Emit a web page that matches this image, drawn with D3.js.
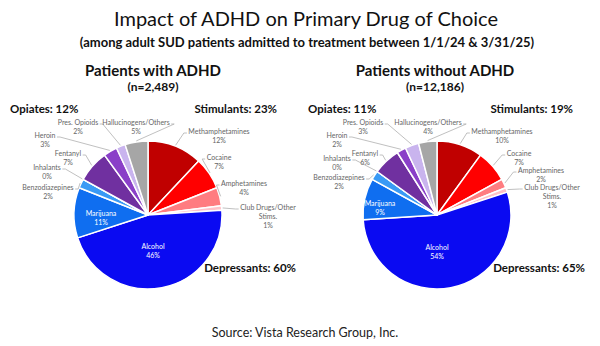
<!DOCTYPE html>
<html>
<head>
<meta charset="utf-8">
<script src="https://cdn.jsdelivr.net/npm/d3@7"></script>
<style>
	body { margin: 0; background: #fff; }
	svg { display: block; font-family: Lato, 'Open Sans', sans-serif; }
</style>
</head>
<body>
<svg id="chart"></svg>
<script>
// data
const drugs = ['Methamphetamines', 'Cocaine', 'Amphetamines', 'Club Drugs/Other\nStims.', 'Alcohol', 'Marijuana',
	'Benzodiazepines', 'Inhalants', 'Fentanyl', 'Heroin', 'Pres. Opioids', 'Hallucinogens/Others']
const withAdhd = [12, 7, 4, 1, 46, 11, 2, 0, 7, 3, 2, 5]
const withoutAdhd = [10, 7, 2, 1, 54, 9, 2, 0, 6, 2, 3, 4]
const pieTitles = ['Patients with ADHD', 'Patients without ADHD']
const pieCounts = ['(n=2,489)', '(n=12,186)']
const groupNames = ['Opiates', 'Stimulants', 'Depressants']
const groupWith = [12, 23, 60]
const groupWithout = [11, 19, 65]

const colors = ['#c00000', '#ff0000', '#ff7c80', '#ffc2c8', '#0a0af2', '#0f6ef0',
	'#3a9af5', '#9dc3e6', '#7030a0', '#8a3fc8', '#c9b4ee', '#a6a6a6']

// layout
const width = 600, height = 346
const radius = 74
const centers = [[148, 215], [437, 215]]
// label centre (first line) for each slice, per pie
const labelPos = [
	[[219, 131], [219, 157], [244, 183], [268, 207], [153, 246], [101, 213], [48, 187], [47, 167], [68, 153], [45, 135], [78, 122], [136, 122]],
	[[502, 131], [519, 153], [541, 170], [552, 187], [437, 247], [380, 203], [339, 177], [337, 158], [365, 153], [337, 135], [363, 122], [428, 122]]
]
const insideLabels = [4, 5]
const groupPos = [
	[[10, 109, 'start'], [277, 109, 'end'], [296, 268, 'end']],
	[[308, 109, 'start'], [573, 109, 'end'], [585, 268, 'end']]
]

const svg = d3.select('#chart')
	.attr('width', width)
	.attr('height', height)

svg.append('text')
	.attr('x', 306).attr('y', 26)
	.attr('text-anchor', 'middle')
	.attr('font-size', '20px')
	.attr('fill', '#111')
	.text('Impact of ADHD on Primary Drug of Choice')

svg.append('text')
	.attr('x', 307).attr('y', 47)
	.attr('text-anchor', 'middle')
	.attr('font-size', '13px')
	.attr('font-weight', 'bold')
	.attr('fill', '#111')
	.text('(among adult SUD patients admitted to treatment between 1/1/24 & 3/31/25)')

svg.append('text')
	.attr('x', 305).attr('y', 337)
	.attr('text-anchor', 'middle')
	.attr('font-size', '12.5px')
	.attr('fill', '#222')
	.text('Source:  Vista Research Group, Inc.')

const pie = d3.pie().sort(null).value(d => d)
const arc = d3.arc().innerRadius(0).outerRadius(radius)
const edgeArc = d3.arc().innerRadius(radius + 1).outerRadius(radius + 1)

function drawPie(i, values, groups) {
	const [cx, cy] = centers[i]
	const g = svg.append('g')
		.attr('transform', `translate(${cx},${cy})`)
	const pied = pie(values)

	g.selectAll('path')
		.data(pied)
		.join('path')
		.attr('d', arc)
		.attr('fill', (d, j) => colors[j])
		.attr('stroke', '#fff')
		.attr('stroke-width', 1.5)
		.attr('stroke-linejoin', 'round')

	// titles
	svg.append('text')
		.attr('x', i === 0 ? 153 : 435).attr('y', 76)
		.attr('text-anchor', 'middle')
		.attr('font-size', '15px')
		.attr('font-weight', 'bold')
		.attr('fill', '#111')
		.text(pieTitles[i])
	svg.append('text')
		.attr('x', i === 0 ? 153 : 435).attr('y', 91)
		.attr('text-anchor', 'middle')
		.attr('font-size', '12px')
		.attr('font-weight', 'bold')
		.attr('fill', '#111')
		.text(pieCounts[i])

	// group totals
	groupNames.forEach((name, k) => {
		const [x, y, anchor] = groupPos[i][k]
		svg.append('text')
			.attr('x', x).attr('y', y + 4)
			.attr('text-anchor', anchor)
			.attr('font-size', '11.5px')
			.attr('font-weight', 'bold')
			.attr('fill', '#111')
			.text(`${name}: ${groups[k]}%`)
	})

	// slice labels
	pied.forEach((d, j) => {
		const [lx, ly] = labelPos[i][j]
		const inside = insideLabels.includes(j)
		const lines = drugs[j].split('\n').concat([`${values[j]}%`])
		const t = svg.append('text')
			.attr('text-anchor', 'middle')
			.attr('font-size', '7px')
			.attr('fill', inside ? '#fff' : '#666')
		lines.forEach((line, k) => {
			t.append('tspan')
				.attr('x', lx)
				.attr('y', ly + 2.5 + k * 9)
				.text(line)
		})
		if (inside) return

		// leader line from slice edge to label edge
		const [ex, ey] = edgeArc.centroid(d)
		const sx = cx + ex, sy = cy + ey
		const w = t.select('tspan').node().getComputedTextLength()
		const right = lx > cx
		const tx = right ? lx - w / 2 - 1.5 : lx + w / 2 + 1.5
		const ty = ly + 2
		const elbowX = right ? tx - 3 : tx + 3
		svg.append('polyline')
			.attr('points', `${sx},${sy} ${elbowX},${ty} ${tx},${ty}`)
			.attr('fill', 'none')
			.attr('stroke', '#b0b0b0')
			.attr('stroke-width', 0.8)
	})
}

drawPie(0, withAdhd, groupWith)
drawPie(1, withoutAdhd, groupWithout)
</script>
</body>
</html>
